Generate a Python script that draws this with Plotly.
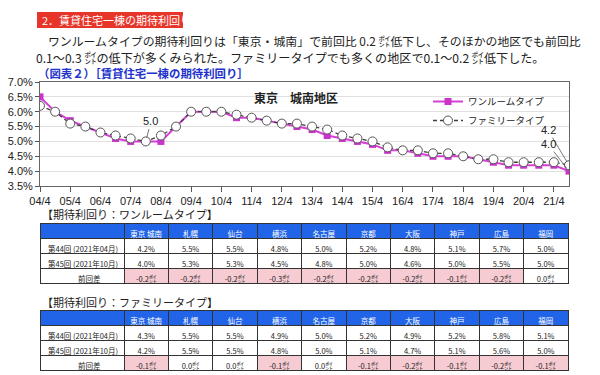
import plotly.graph_objects as go

# ---------------- data ----------------
periods = ["04/4", "04/10", "05/4", "05/10", "06/4", "06/10", "07/4", "07/10", "08/4", "08/10",
           "09/4", "09/10", "10/4", "10/10", "11/4", "11/10", "12/4", "12/10", "13/4", "13/10",
           "14/4", "14/10", "15/4", "15/10", "16/4", "16/10", "17/4", "17/10", "18/4", "18/10",
           "19/4", "19/10", "20/4", "20/10", "21/4", "21/10"]
tick_labels = ["04/4", "05/4", "06/4", "07/4", "08/4", "09/4", "10/4", "11/4", "12/4",
               "13/4", "14/4", "15/4", "16/4", "17/4", "18/4", "19/4", "20/4", "21/4"]
one_room = [6.5, 6.0, 5.7, 5.5, 5.3, 5.1, 5.0, 5.0, 5.0, 5.5, 6.0, 6.0, 6.0, 5.8, 5.8, 5.7, 5.6, 5.5,
            5.4, 5.2, 5.1, 5.0, 4.9, 4.7, 4.7, 4.6, 4.5, 4.5, 4.5, 4.4, 4.3, 4.2, 4.2, 4.2, 4.2, 4.0]
family = [6.2, 6.0, 5.6, 5.5, 5.3, 5.2, 5.1, 5.0, 5.2, 5.5, 6.0, 6.0, 6.0, 5.9, 5.8, 5.7, 5.6, 5.6,
          5.5, 5.4, 5.2, 5.1, 5.0, 4.8, 4.7, 4.7, 4.6, 4.6, 4.5, 4.4, 4.4, 4.3, 4.3, 4.3, 4.3, 4.2]

cities = ["東京\u00a0城南", "札幌", "仙台", "横浜", "名古屋", "京都", "大阪", "神戸", "広島", "福岡"]
row_labels = ["第44回\u00a0(2021年04月)", "第45回\u00a0(2021年10月)", "\u3000\u3000\u3000\u3000前回差"]
oneroom_44 = [4.2, 5.5, 5.5, 4.8, 5.0, 5.2, 4.8, 5.1, 5.7, 5.0]
oneroom_45 = [4.0, 5.3, 5.3, 4.5, 4.8, 5.0, 4.6, 5.0, 5.5, 5.0]
family_44 = [4.3, 5.5, 5.5, 4.9, 5.0, 5.2, 4.9, 5.2, 5.8, 5.1]
family_45 = [4.2, 5.5, 5.5, 4.8, 5.0, 5.1, 4.7, 5.1, 5.6, 5.0]

W, H = 600, 375
JP = "Noto Sans CJK JP"
AR = "Liberation Sans"


def px(x):
    return x / W


def py(y):
    return 1 - y / H


fig = go.Figure()

fig.add_trace(go.Scatter(
    x=periods, y=one_room, name="ワンルームタイプ", mode="lines+markers", legendgroup="a",
    line=dict(color="#D63FD6", width=2),
    marker=dict(symbol="square", size=7, color="#CC33CC", line=dict(width=0)),
))
fig.add_trace(go.Scatter(
    x=periods, y=family, name="ファミリータイプ", mode="lines+markers", legendgroup="b",
    line=dict(color="#404040", width=1.3, dash="4px,3px"),
    marker=dict(symbol="circle", size=9, color="white", line=dict(color="#555555", width=1)),
))


def make_table(v44, v45, top, bottom):
    diffs = [round(b - a, 1) for a, b in zip(v44, v45)]
    cols = [row_labels]
    fills = [["white", "white", "white"]]
    aligns = ["left"]
    for a, b, d in zip(v44, v45, diffs):
        cols.append([f"{a:.1f}%", f"{b:.1f}%", f"{d:.1f}㌽"])
        fills.append(["white", "white", "#F6CBD2" if d < 0 else "white"])
        aligns.append("center")
    return go.Table(
        domain=dict(x=[px(40), px(568)], y=[py(bottom), py(top)]),
        columnwidth=[84] + [44.4] * len(cities),
        header=dict(values=[""] + cities, fill_color="#2164E8",
                    font=dict(family=JP, size=7.5, color="white"),
                    line=dict(color="#333333", width=1), height=15, align="center"),
        cells=dict(values=cols, fill_color=fills,
                   font=dict(family=JP, size=7.5, color="#222222"),
                   line=dict(color="#333333", width=1), height=15, align=aligns),
    )


fig.add_trace(make_table(oneroom_44, oneroom_45, 223, 300))
fig.add_trace(make_table(family_44, family_45, 310, 375))

fig.update_layout(
    width=W, height=H,
    margin=dict(l=0, r=0, t=0, b=0, autoexpand=False),
    paper_bgcolor="white", plot_bgcolor="white",
    showlegend=True,
    legend=dict(x=px(428), y=py(87), xanchor="left", yanchor="top",
                font=dict(family=JP, size=9.5, color="#222222"),
                bgcolor="rgba(0,0,0,0)", tracegroupgap=0, itemwidth=30),
    xaxis=dict(domain=[px(40), px(569)], type="category", range=[0, len(periods) - 1],
               tickmode="array", tickvals=tick_labels, ticktext=tick_labels,
               ticks="outside", ticklen=5, tickcolor="#555555",
               showline=True, linecolor="#666666", mirror=True, showgrid=False,
               tickfont=dict(family=AR, size=11, color="#222222")),
    yaxis=dict(domain=[py(186), py(82)], range=[3.5, 7.0], dtick=0.5, tickformat=".1f",
               ticksuffix="%", ticks="outside", ticklen=4, tickcolor="#555555",
               showline=True, linecolor="#666666", mirror=True,
               showgrid=True, gridcolor="#E0E0E0", gridwidth=1, zeroline=False,
               tickfont=dict(family=AR, size=11, color="#222222")),
)

# header bar
fig.add_shape(type="rect", xref="paper", yref="paper", x0=px(37), x1=px(183), y0=py(28), y1=py(12),
              fillcolor="#E8352A", line=dict(width=0), layer="below")
ann = []
ann.append(dict(x=px(40), y=py(20), text="2．賃貸住宅一棟の期待利回り", xanchor="left",
                font=dict(family=JP, size=11, color="white")))
ann.append(dict(x=px(34), y=py(40), text="　ワンルームタイプの期待利回りは「東京・城南」で前回比 0.2 ㌽低下し、そのほかの地区でも前回比",
                xanchor="left", font=dict(family=JP, size=11.9, color="#222222")))
ann.append(dict(x=px(34), y=py(57), text="0.1～0.3 ㌽の低下が多くみられた。ファミリータイプでも多くの地区で0.1～0.2 ㌽低下した。",
                xanchor="left", font=dict(family=JP, size=12.1, color="#222222")))
ann.append(dict(x=px(36), y=py(73), text="<b>（図表２）［賃貸住宅一棟の期待利回り］</b>", xanchor="left",
                font=dict(family=JP, size=11.4, color="#2233CC")))
ann.append(dict(x=px(296), y=py(98), text="<b>東京　城南地区</b>",
                font=dict(family=JP, size=12, color="#222222")))
ann.append(dict(x=px(40), y=py(214), text="【期待利回り：ワンルームタイプ】", xanchor="left",
                font=dict(family=JP, size=11, color="#222222")))
ann.append(dict(x=px(40), y=py(302), text="【期待利回り：ファミリータイプ】", xanchor="left",
                font=dict(family=JP, size=11, color="#222222")))
for a in ann:
    a.update(xref="paper", yref="paper", showarrow=False, yanchor="middle")

# data labels with leader lines
lbl_font = dict(family=AR, size=11, color="#222222")
ann.append(dict(x="07/10", y=5.0, xref="x", yref="y", text="5.0", showarrow=True, arrowhead=0,
                arrowwidth=0.8, arrowcolor="#555555", ax=5, ay=-20, standoff=4, font=lbl_font))
ann.append(dict(x="21/10", y=family[-1], xref="x", yref="y", text=f"{family[-1]:.1f}", showarrow=True,
                arrowhead=0, arrowwidth=0.8, arrowcolor="#555555", ax=-21, ay=-35, standoff=4, font=lbl_font))
ann.append(dict(x="21/10", y=one_room[-1], xref="x", yref="y", text=f"{one_room[-1]:.1f}", showarrow=True,
                arrowhead=0, arrowwidth=0.8, arrowcolor="#555555", ax=-21, ay=-27, standoff=4, font=lbl_font))

fig.update_layout(annotations=ann)
fig.write_html("out.html", config={"displayModeBar": False},
               post_script="document.body.style.margin='0';document.body.style.padding='0';")
